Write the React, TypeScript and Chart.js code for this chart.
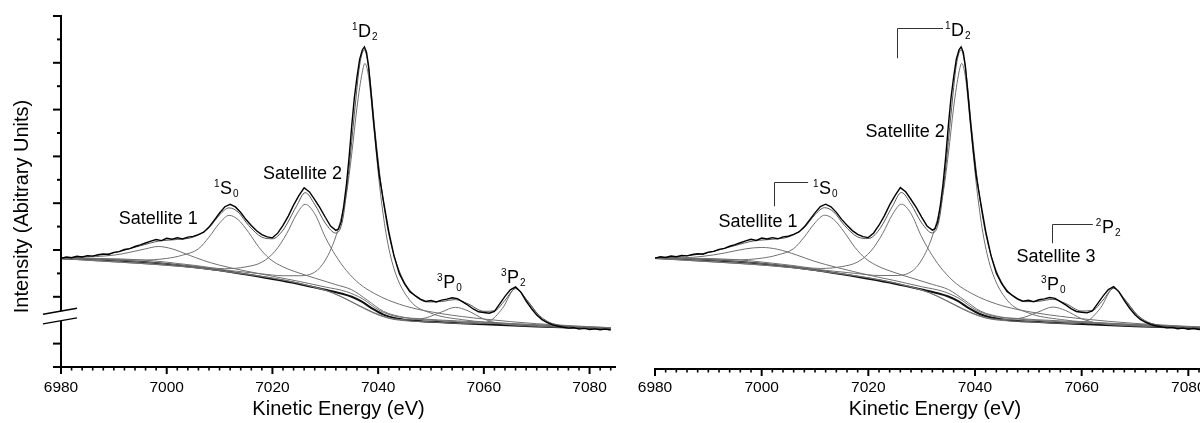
import React, { useEffect, useRef } from 'react';
import { Chart, registerables } from 'chart.js';

Chart.register(...registerables);

const FONT = '"Liberation Sans", Arial, Helvetica, sans-serif';

// ---------- axis content ----------
const xMajorTicks = [6980, 7000, 7020, 7040, 7060, 7080];
const xMinorStep = 2;
const xTitle = 'Kinetic Energy (eV)';
const yTitle = 'Intensity (Abitrary Units)';
const yTickValues = [0, 1, 3, 4, 5, 6, 7, 8, 9, 10, 11, 12, 13, 14, 15];

// ---------- measured spectrum ----------
const dataE = [
  6980, 6981, 6982, 6983, 6984, 6985, 6986, 6987, 6988, 6989, 6990, 6991, 6992, 6993, 6994, 6995, 6996, 6997, 6998, 6999,
  7000, 7001, 7002, 7003, 7004, 7005, 7006, 7007, 7008, 7009, 7010, 7011, 7012, 7013, 7014, 7015, 7016, 7017, 7018, 7019,
  7020, 7021, 7022, 7023, 7024, 7025, 7026, 7027, 7028, 7029, 7030, 7031, 7032, 7032.5, 7033, 7033.5, 7034, 7034.5, 7035,
  7035.5, 7036, 7036.5, 7037, 7037.4, 7037.8, 7038.2, 7038.7, 7039.2, 7039.7, 7040.2, 7041, 7042, 7043, 7044, 7045, 7046,
  7047, 7048, 7049, 7050, 7051, 7052, 7053, 7054, 7055, 7056, 7057, 7058, 7059, 7060, 7061, 7062, 7063, 7064, 7065, 7066,
  7067, 7068, 7069, 7070, 7071, 7072, 7073, 7074, 7075, 7076, 7077, 7078, 7079, 7080, 7081, 7082, 7083, 7084,
];
const dataI = [
  4.64, 4.7, 4.67, 4.73, 4.7, 4.76, 4.74, 4.8, 4.83, 4.81, 4.9, 4.93, 5.02, 5.06, 5.15, 5.22, 5.3, 5.38, 5.45, 5.4,
  5.5, 5.46, 5.52, 5.47, 5.55, 5.58, 5.66, 5.76, 5.98, 6.28, 6.58, 6.85, 6.95, 6.84, 6.6, 6.3, 6.05, 5.82, 5.66, 5.56,
  5.52, 5.72, 6.05, 6.45, 6.92, 7.32, 7.66, 7.48, 7.15, 6.8, 6.4, 6.02, 5.84, 5.9, 6.2, 6.9, 7.8, 8.95, 10.3,
  11.5, 12.4, 13.15, 13.55, 13.68, 13.45, 12.85, 11.6, 10.35, 9.2, 8.2, 7.1, 5.8, 4.75, 4.0, 3.55, 3.22,
  3.05, 2.9, 2.8, 2.84, 2.78, 2.86, 2.9, 2.96, 2.92, 2.78, 2.64, 2.48, 2.36, 2.33, 2.3, 2.38, 2.7, 3.02, 3.3, 3.42,
  3.2, 2.82, 2.5, 2.22, 2.02, 1.9, 1.8, 1.74, 1.7, 1.66, 1.68, 1.62, 1.65, 1.6, 1.63, 1.59, 1.62, 1.58,
];

// ---------- fitted envelope ----------
const fitE = [
  6980, 6985, 6990, 6995, 6998.5, 7002, 7005, 7008, 7010, 7011.8, 7013.5, 7015.5, 7018, 7020, 7022, 7024.5, 7026.2, 7028,
  7030, 7032, 7033.3, 7034.5, 7035.5, 7036.5, 7037.4, 7038.3, 7039.4, 7040.6, 7042, 7044, 7046.5, 7049.5, 7052, 7054.6,
  7057, 7060, 7062, 7064, 7066, 7068, 7070.5, 7073, 7077, 7084,
];
const fitI = [
  4.66, 4.72, 4.88, 5.18, 5.38, 5.45, 5.55, 5.95, 6.5, 6.8, 6.62, 6.05, 5.55, 5.48, 5.85, 6.85, 7.45, 6.95,
  6.15, 5.72, 6.3, 8.5, 10.8, 12.9, 13.55, 12.6, 10.1, 7.7, 5.7, 4.1, 3.15, 2.78, 2.8, 2.88,
  2.7, 2.38, 2.4, 2.85, 3.35, 2.9, 2.2, 1.85, 1.7, 1.64,
];

// ---------- background ----------
const bgE = [6980, 6990, 7000, 7010, 7020, 7025, 7030, 7033, 7035, 7037, 7039, 7041, 7043, 7046, 7050, 7060, 7070, 7084];
const bgI = [4.65, 4.56, 4.4, 4.13, 3.76, 3.55, 3.3, 3.14, 3.0, 2.78, 2.48, 2.24, 2.1, 2.0, 1.93, 1.83, 1.73, 1.63];

// ---------- fitted components (background included) ----------
const sat1LeftE = [6980, 6985, 6990, 6993, 6996, 6998.4, 7001, 7004, 7007, 7010, 7015, 7020, 7025, 7030, 7034, 7037, 7040, 7043, 7048, 7055, 7065, 7075, 7084];
const sat1LeftI = [4.68, 4.7, 4.78, 4.9, 5.05, 5.15, 5.05, 4.8, 4.55, 4.35, 4.1, 3.88, 3.66, 3.42, 3.22, 2.92, 2.45, 2.18, 2.06, 1.97, 1.86, 1.76, 1.66];

const sat1RightE = [6980, 6985, 6989, 6993, 6997, 7000, 7003, 7006.5, 7010, 7014, 7020, 7025, 7030, 7034, 7037, 7040, 7043, 7048, 7055, 7065, 7075, 7084];
const sat1RightI = [4.66, 4.66, 4.72, 4.86, 5.04, 5.1, 5.02, 4.78, 4.5, 4.25, 3.92, 3.68, 3.42, 3.22, 2.92, 2.45, 2.18, 2.06, 1.97, 1.86, 1.76, 1.66];

const s0E = [6980, 6990, 6995, 7000, 7003, 7006, 7008, 7010, 7011.8, 7013.5, 7015.5, 7017.5, 7019.5, 7022, 7025, 7028, 7032, 7035, 7038, 7041, 7045, 7050, 7060, 7070, 7084];
const s0I = [4.66, 4.6, 4.57, 4.64, 4.78, 5.05, 5.55, 6.15, 6.48, 6.3, 5.75, 5.1, 4.62, 4.28, 4.02, 3.8, 3.52, 3.3, 2.85, 2.38, 2.12, 2.0, 1.88, 1.77, 1.66];

const sat2E = [6980, 6995, 7005, 7011, 7015, 7018, 7020.5, 7022.7, 7024.5, 7026.2, 7028, 7030, 7032, 7034, 7036.5, 7039.3, 7042, 7046, 7052, 7060, 7070, 7084];
const sat2I = [4.66, 4.58, 4.35, 4.2, 4.28, 4.48, 4.95, 5.7, 6.5, 6.95, 6.55, 5.55, 4.75, 4.12, 3.55, 3.14, 2.85, 2.55, 2.28, 2.05, 1.85, 1.68];

const d2E = [6980, 6995, 7005, 7012, 7018, 7022, 7025, 7027, 7029, 7031, 7032.5, 7034, 7035, 7036, 7037, 7037.5, 7038.2, 7039.2, 7040.3, 7041.5, 7043, 7046, 7050, 7056, 7065, 7084];
const d2I = [4.66, 4.5, 4.3, 4.12, 3.98, 3.9, 3.9, 3.95, 4.25, 5.0, 5.95, 7.4, 9.1, 11.1, 12.6, 12.97, 12.4, 10.2, 7.7, 5.7, 4.2, 2.85, 2.3, 2.02, 1.85, 1.68];

const p0E = [6980, 7010, 7030, 7042, 7046, 7049, 7052, 7054.6, 7057, 7060, 7063, 7070, 7084];
const p0I = [4.64, 4.12, 3.28, 2.1, 2.02, 2.1, 2.35, 2.55, 2.4, 2.05, 1.86, 1.74, 1.64];

const p2E = [6980, 7010, 7030, 7042, 7050, 7058, 7061, 7063.5, 7066, 7068.5, 7071, 7074, 7078, 7084];
const p2I = [4.64, 4.12, 3.28, 2.08, 1.93, 1.85, 1.95, 2.5, 3.36, 2.75, 2.05, 1.8, 1.7, 1.65];

// ---------- annotations (energy, intensity anchors) ----------
const leftLabels = [
  { text: 'Satellite 1', x: 6998.4, y: 6.09 },
  { sup: '1', main: 'S', sub: '0', x: 7010.1, y: 7.41 },
  { text: 'Satellite 2', x: 7025.7, y: 8.05 },
  { sup: '1', main: 'D', sub: '2', x: 7036.2, y: 14.09 },
  { sup: '3', main: 'P', sub: '0', x: 7052.3, y: 3.36 },
  { sup: '3', main: 'P', sub: '2', x: 7064.4, y: 3.58 },
];
const rightLabels = [
  { text: 'Satellite 1', x: 6999.3, y: 5.97 },
  { sup: '1', main: 'S', sub: '0', x: 7010.75, y: 7.38 },
  { text: 'Satellite 2', x: 7026.9, y: 9.81 },
  { sup: '1', main: 'D', sub: '2', x: 7035.5, y: 14.13 },
  { text: 'Satellite 3', x: 7055.2, y: 4.47 },
  { sup: '2', main: 'P', sub: '2', x: 7063.8, y: 5.71 },
  { sup: '3', main: 'P', sub: '0', x: 7053.5, y: 3.28 },
];
const rightBrackets = [
  { x1: 7002.3, y1: 6.86, y2: 7.88, x2: 7008.7 },
  { x1: 7025.4, y1: 13.19, y2: 14.5, x2: 7034.0 },
  { x1: 7054.4, y1: 5.28, y2: 6.09, x2: 7062.1 },
];

const pts = (xs: number[], ys: number[]) => xs.map((x, i) => ({ x, y: ys[i] }));

const decorPlugin = {
  id: 'decor',
  afterDraw(chart: any, _args: any, opts: any) {
    const { ctx, chartArea: a } = chart;
    const xs = chart.scales.x;
    const ys = chart.scales.y;
    ctx.save();
    ctx.strokeStyle = '#000';
    ctx.fillStyle = '#000';
    ctx.lineCap = 'butt';
    const seg = (x1: number, y1: number, x2: number, y2: number, w: number) => {
      ctx.lineWidth = w;
      ctx.beginPath();
      ctx.moveTo(x1, y1);
      ctx.lineTo(x2, y2);
      ctx.stroke();
    };
    // x axis
    const yb = a.bottom;
    seg(a.left - 1, yb, a.right, yb, 2);
    for (let v = xs.min; v <= xs.max + 1e-6; v += xMinorStep) {
      const px = xs.getPixelForValue(v);
      const major = xMajorTicks.includes(v);
      seg(px, yb, px, yb + (major ? 7 : 3.5), major ? 2 : 1.6);
    }
    // y axis with break (left panel only)
    if (opts.yAxis) {
      const ax = a.left;
      const lo = ys.getPixelForValue(opts.breakLo);
      const hi = ys.getPixelForValue(opts.breakHi);
      seg(ax, yb + 1, ax, lo, 2);
      seg(ax, hi, ax, ys.getPixelForValue(ys.max) - 1, 2);
      for (const v of yTickValues) {
        const py = ys.getPixelForValue(v);
        const long = v <= 1 || v % 2 === 1;
        seg(ax - (long ? 8 : 4), py, ax, py, 2);
      }
      for (const yy of [lo, hi]) seg(ax - 18, yy + 3, ax + 16, yy - 3, 1.4);
      ctx.save();
      ctx.translate(22, 206.5);
      ctx.rotate(-Math.PI / 2);
      ctx.font = `20px ${FONT}`;
      ctx.textAlign = 'center';
      ctx.textBaseline = 'middle';
      ctx.fillText(yTitle, 0, 0);
      ctx.restore();
    }
    // brackets
    for (const b of opts.brackets || []) {
      ctx.lineWidth = 1;
      ctx.strokeStyle = '#333';
      ctx.beginPath();
      const bx = Math.round(xs.getPixelForValue(b.x1)) + 0.5;
      const by = Math.round(ys.getPixelForValue(b.y2)) + 0.5;
      ctx.moveTo(bx, ys.getPixelForValue(b.y1));
      ctx.lineTo(bx, by);
      ctx.lineTo(xs.getPixelForValue(b.x2), by);
      ctx.stroke();
    }
    // labels
    ctx.textBaseline = 'alphabetic';
    for (const l of opts.labels || []) {
      const px = xs.getPixelForValue(l.x);
      const py = ys.getPixelForValue(l.y);
      if (l.text) {
        ctx.font = `18px ${FONT}`;
        ctx.textAlign = 'center';
        ctx.fillText(l.text, px, py);
      } else {
        ctx.font = `18px ${FONT}`;
        ctx.textAlign = 'left';
        ctx.fillText(l.main, px, py);
        const w = ctx.measureText(l.main).width;
        ctx.font = `10px ${FONT}`;
        ctx.textAlign = 'right';
        ctx.fillText(l.sup, px - 0.5, py - 7);
        ctx.textAlign = 'left';
        ctx.fillText(l.sub, px + w + 1, py + 3);
      }
    }
    ctx.restore();
  },
};

function buildConfig(side: string): any {
  const isLeft = side === 'left';
  const comp = (xsArr: number[], ysArr: number[], color = '#707070') => ({
    data: pts(xsArr, ysArr),
    borderColor: color,
    borderWidth: 1,
    pointRadius: 0,
    cubicInterpolationMode: 'monotone',
    fill: false,
  });
  const datasets = [
    { label: 'Measured', data: pts(dataE, dataI), borderColor: '#000', borderWidth: 1.4, pointRadius: 0, tension: 0, fill: false },
    { label: 'Fit', ...comp(fitE, fitI, '#555') },
    { label: 'Satellite 1', ...comp(isLeft ? sat1LeftE : sat1RightE, isLeft ? sat1LeftI : sat1RightI) },
    { label: '1S0', ...comp(s0E, s0I) },
    { label: 'Satellite 2', ...comp(sat2E, sat2I) },
    { label: '1D2', ...comp(d2E, d2I) },
    { label: '3P0', ...comp(p0E, p0I) },
    { label: '3P2', ...comp(p2E, p2I) },
    { label: 'Background', data: pts(bgE, bgI), borderColor: '#111', borderWidth: 2, pointRadius: 0, cubicInterpolationMode: 'monotone', fill: false },
  ];
  return {
    type: 'line',
    data: { datasets },
    plugins: [decorPlugin],
    options: {
      animation: false,
      responsive: false,
      maintainAspectRatio: false,
      events: [],
      layout: { padding: { left: isLeft ? 61 : 35, right: isLeft ? 4 : 5, top: 16, bottom: 0 } },
      plugins: {
        legend: { display: false },
        tooltip: { enabled: false },
        decor: {
          yAxis: isLeft,
          breakLo: 1.97,
          breakHi: 2.38,
          labels: isLeft ? leftLabels : rightLabels,
          brackets: isLeft ? [] : rightBrackets,
        },
      },
      scales: {
        x: {
          type: 'linear',
          min: 6980,
          max: 7085,
          afterBuildTicks: (s: any) => {
            s.ticks = xMajorTicks.map((v) => ({ value: v }));
          },
          afterFit: (s: any) => {
            s.height = isLeft ? 56 : 54;
          },
          grid: { display: false, drawTicks: false },
          border: { display: false },
          ticks: {
            color: '#000',
            font: { family: FONT, size: 15.5 },
            padding: isLeft ? 11 : 9,
            maxRotation: 0,
            autoSkip: false,
            callback: (v: any) => String(v),
          },
          title: {
            display: true,
            text: xTitle,
            color: '#000',
            font: { family: FONT, size: 20 },
            padding: { top: 0, bottom: 2 },
          },
        },
        y: { type: 'linear', display: false, min: isLeft ? 0 : -0.1, max: 15 },
      },
    },
  };
}

function Panel({ side, left, width }: { side: string; left: number; width: number }) {
  const ref = useRef<HTMLCanvasElement>(null);
  useEffect(() => {
    const chart = new Chart(ref.current as HTMLCanvasElement, buildConfig(side));
    return () => chart.destroy();
  }, [side]);
  return (
    <canvas
      ref={ref}
      width={width}
      height={423}
      style={{ position: 'absolute', left, top: 0, width, height: 423 }}
    />
  );
}

export default function App() {
  return (
    <div
      style={{
        position: 'fixed',
        left: 0,
        top: 0,
        width: 1200,
        height: 423,
        overflow: 'hidden',
        background: '#fff',
      }}
    >
      <Panel side="left" left={0} width={620} />
      <Panel side="right" left={620} width={600} />
    </div>
  );
}
